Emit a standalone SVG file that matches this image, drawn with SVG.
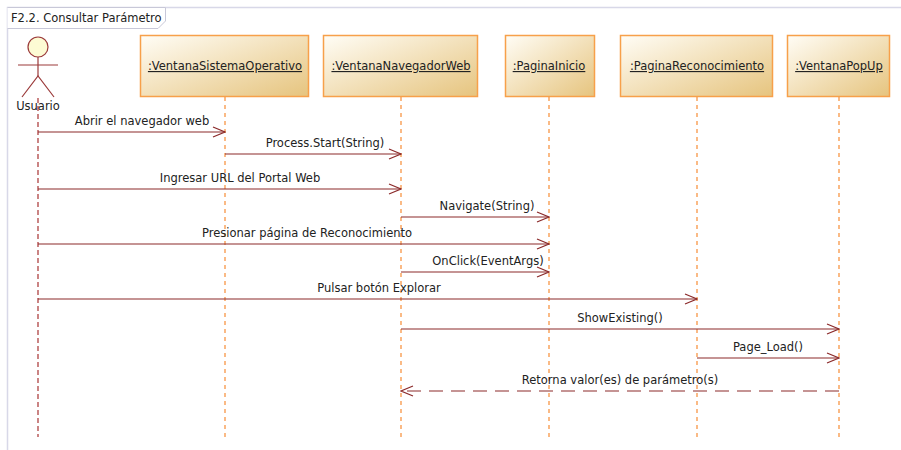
<svg xmlns="http://www.w3.org/2000/svg" width="901" height="450" viewBox="0 0 901 450">
<defs>
<linearGradient id="g" x1="0" y1="0" x2="1" y2="1">
<stop offset="0" stop-color="#fffdf6"/>
<stop offset="1" stop-color="#e6c47e"/>
</linearGradient>
<marker id="arr" markerWidth="14" markerHeight="12" refX="13" refY="6" orient="auto" markerUnits="userSpaceOnUse">
<path d="M1,1 L13,6 L1,11" fill="none" stroke="#8b2a2a" stroke-width="1.2"/>
</marker>
<style>
text{font-family:"DejaVu Sans","Liberation Sans",sans-serif;font-size:11.5px;fill:#222}
.box{fill:url(#g);stroke:#f7a04a;stroke-width:1.5}
.ll{stroke:#f79646;stroke-width:1.3;stroke-dasharray:4,4;fill:none}
.msg{stroke:#8b2a2a;stroke-width:1.2;fill:none;marker-end:url(#arr)}
.ret{stroke:#8b2a2a;stroke-width:1.2;fill:none;stroke-dasharray:14,8;marker-end:url(#arr)}
.nm{text-anchor:middle;text-decoration:underline}
.lb{text-anchor:middle}
.act{stroke:#9b3a3a;stroke-width:1.2;fill:none}
</style>
</defs>
<rect width="901" height="450" fill="#fff"/>
<g id="frame">
<path d="M7.5,450 L7.5,7.5 L901,7.5" fill="none" stroke="#d8d8e8" stroke-width="1.5"/>
<path d="M7.5,7.5 L165.5,7.5 L165.5,21 L158,28.5 L7.5,28.5" fill="#fff" stroke="#c8c8d8" stroke-width="1"/>
<text x="11" y="22">F2.2. Consultar Parámetro</text>
</g>
<g id="usuario">
<circle cx="38" cy="47" r="10" fill="#fdfbd4" stroke="#9b3a3a" stroke-width="1.2"/>
<line class="act" x1="38" y1="57" x2="38" y2="76"/>
<line class="act" x1="18" y1="65" x2="58" y2="65"/>
<path class="act" d="M22,97 L38,76 L54,97"/>
<text class="lb" x="38" y="110">Usuario</text>
<line x1="38" y1="98" x2="38" y2="437" stroke="#a83232" stroke-width="1.2" stroke-dasharray="5,3"/>
</g>
<g id="ventanaSistemaOperativo">
<rect class="box" x="140.5" y="35.5" width="168" height="61"/>
<text class="nm" x="225" y="70">:VentanaSistemaOperativo</text>
<line class="ll" x1="225" y1="97" x2="225" y2="437"/>
</g>
<g id="ventanaNavegadorWeb">
<rect class="box" x="323.5" y="35.5" width="154" height="61"/>
<text class="nm" x="401" y="70">:VentanaNavegadorWeb</text>
<line class="ll" x1="401" y1="97" x2="401" y2="437"/>
</g>
<g id="paginaInicio">
<rect class="box" x="505.5" y="35.5" width="89" height="61"/>
<text class="nm" x="549" y="70">:PaginaInicio</text>
<line class="ll" x1="549" y1="97" x2="549" y2="437"/>
</g>
<g id="paginaReconocimiento">
<rect class="box" x="620.5" y="35.5" width="152" height="61"/>
<text class="nm" x="697" y="70">:PaginaReconocimiento</text>
<line class="ll" x1="697" y1="97" x2="697" y2="437"/>
</g>
<g id="ventanaPopUp">
<rect class="box" x="787.5" y="35.5" width="102" height="61"/>
<text class="nm" x="839" y="70">:VentanaPopUp</text>
<line class="ll" x1="839" y1="97" x2="839" y2="437"/>
</g>
<g id="connectors">
<line class="msg" x1="38" y1="132" x2="225" y2="132"/>
<text class="lb" x="142" y="125">Abrir el navegador web</text>
<line class="msg" x1="225" y1="154" x2="401" y2="154"/>
<text class="lb" x="325" y="147">Process.Start(String)</text>
<line class="msg" x1="38" y1="189" x2="401" y2="189"/>
<text class="lb" x="240" y="182">Ingresar URL del Portal Web</text>
<line class="msg" x1="401" y1="217" x2="549" y2="217"/>
<text class="lb" x="487" y="210">Navigate(String)</text>
<line class="msg" x1="38" y1="244" x2="549" y2="244"/>
<text class="lb" x="307" y="237">Presionar página de Reconocimiento</text>
<line class="msg" x1="401" y1="272" x2="549" y2="272"/>
<text class="lb" x="488" y="265">OnClick(EventArgs)</text>
<line class="msg" x1="38" y1="299" x2="697" y2="299"/>
<text class="lb" x="379" y="292">Pulsar botón Explorar</text>
<line class="msg" x1="401" y1="329" x2="839" y2="329"/>
<text class="lb" x="620" y="322">ShowExisting()</text>
<line class="msg" x1="697" y1="358" x2="839" y2="358"/>
<text class="lb" x="768" y="351">Page_Load()</text>
<line class="ret" x1="839" y1="391" x2="401" y2="391"/>
<text class="lb" x="620" y="384">Retorna valor(es) de parámetro(s)</text>
</g>
</svg>
